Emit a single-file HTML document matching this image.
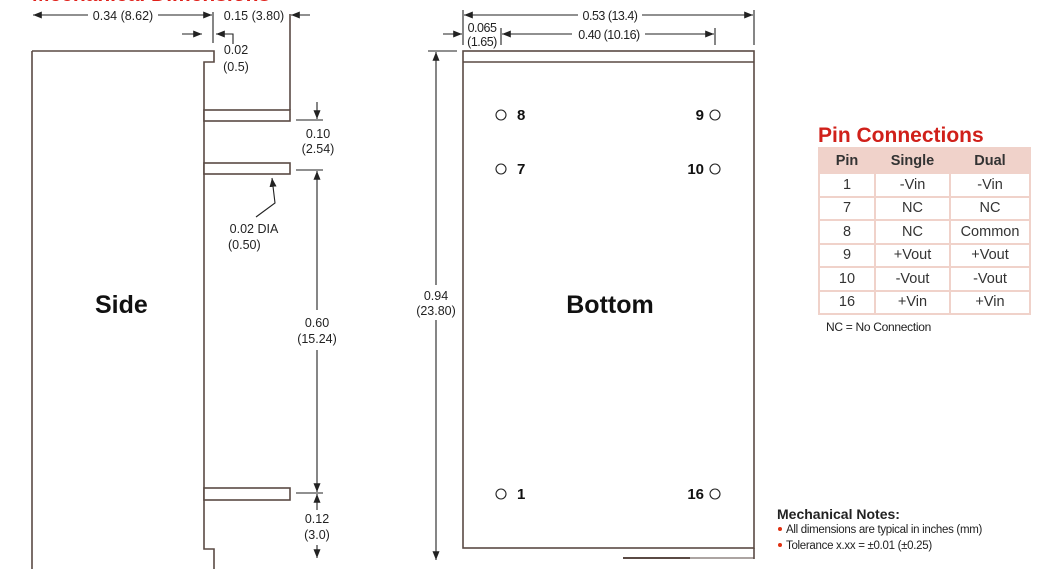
<!DOCTYPE html>
<html><head><meta charset="utf-8"><style>
html,body{margin:0;padding:0;background:#fff;}
body{width:1063px;height:569px;position:relative;overflow:hidden;font-family:"Liberation Sans",sans-serif;}
svg{position:absolute;left:0;top:0;}
table{position:absolute;left:818px;top:147px;border-collapse:collapse;font-size:14.5px;color:#333;}
td,th{border:2px solid #f0d2ca;text-align:center;height:21.5px;padding:0;}
th{background:#f0d2ca;font-weight:bold;height:23px;border-left:2px solid #fff;}
th:first-child{border-left:2px solid #f0d2ca;}
</style></head><body>
<svg width="1063" height="569" viewBox="0 0 1063 569" font-family="Liberation Sans, sans-serif">
<defs>
<marker id="a" viewBox="0 0 10 10" refX="10" refY="5" markerWidth="8" markerHeight="8" orient="auto-start-reverse"><path d="M0,1 L10,5 L0,9 z" fill="#222"/></marker>
</defs>
<text x="32" y="1" font-size="21" font-weight="bold" fill="#e0201a">Mechanical Dimensions</text>
<g stroke="#5a4a44" stroke-width="1.6" fill="none">
<path d="M32,51 H214 V62 H204 V549 H214 V569"/>
<line x1="32" y1="51" x2="32" y2="569"/>
<rect x="204" y="110" width="86" height="11" fill="#fff"/>
<rect x="204" y="163" width="86" height="11" fill="#fff"/>
<rect x="204" y="488" width="86" height="12" fill="#fff"/>
<line x1="290" y1="14" x2="290" y2="110"/>
<rect x="463" y="51" width="291" height="497"/>
<line x1="463" y1="62" x2="754" y2="62"/>
<line x1="754" y1="548" x2="754" y2="559"/>
<line x1="623" y1="558" x2="690" y2="558" stroke-width="2"/>
<line x1="690" y1="558" x2="754" y2="558" stroke-width="1"/>
</g>
<g stroke="#222" stroke-width="1.1" fill="none">
<line x1="213" y1="12" x2="213" y2="43"/>
<line x1="33" y1="15" x2="88" y2="15" marker-start="url(#a)"/>
<line x1="158" y1="15" x2="212" y2="15" marker-end="url(#a)"/>
<line x1="310" y1="15" x2="291" y2="15" marker-end="url(#a)"/>
<line x1="182" y1="34" x2="202" y2="34" marker-end="url(#a)"/>
<path d="M233,44 V34 H216" marker-end="url(#a)"/>
<line x1="317" y1="102" x2="317" y2="119" marker-end="url(#a)"/>
<line x1="296" y1="120" x2="323" y2="120"/>
<line x1="296" y1="170" x2="323" y2="170"/>
<line x1="317" y1="310" x2="317" y2="171" marker-end="url(#a)"/>
<line x1="317" y1="350" x2="317" y2="492" marker-end="url(#a)"/>
<line x1="296" y1="493" x2="323" y2="493"/>
<line x1="317" y1="510" x2="317" y2="494" marker-end="url(#a)"/>
<line x1="317" y1="545" x2="317" y2="558" marker-end="url(#a)"/>
<path d="M256,217 L275,203 L272,178" marker-end="url(#a)"/>
<line x1="428" y1="51" x2="457" y2="51"/>
<line x1="436" y1="285" x2="436" y2="52" marker-end="url(#a)"/>
<line x1="436" y1="320" x2="436" y2="560" marker-end="url(#a)"/>
<line x1="463" y1="10" x2="463" y2="45"/>
<line x1="754" y1="10" x2="754" y2="45"/>
<line x1="464" y1="15" x2="578" y2="15" marker-start="url(#a)"/>
<line x1="642" y1="15" x2="753" y2="15" marker-end="url(#a)"/>
<line x1="501" y1="28" x2="501" y2="45"/>
<line x1="715" y1="28" x2="715" y2="45"/>
<line x1="443" y1="34" x2="462" y2="34" marker-end="url(#a)"/>
<line x1="502" y1="34" x2="572" y2="34" marker-start="url(#a)"/>
<line x1="645" y1="34" x2="714" y2="34" marker-end="url(#a)"/>
<circle cx="501" cy="115" r="5"/><circle cx="501" cy="169" r="5"/><circle cx="501" cy="494" r="5"/>
<circle cx="715" cy="115" r="5"/><circle cx="715" cy="169" r="5"/><circle cx="715" cy="494" r="5"/>
</g>
<g font-size="12.5" fill="#222" text-anchor="middle">
<text x="123" y="20">0.34 (8.62)</text>
<text x="254" y="20">0.15 (3.80)</text>
<text x="236" y="54">0.02</text><text x="236" y="71">(0.5)</text>
<text x="318" y="138">0.10</text><text x="318" y="153">(2.54)</text>
<text x="254" y="233">0.02 DIA</text>
<text x="317" y="327">0.60</text><text x="317" y="343">(15.24)</text>
<text x="317" y="523">0.12</text><text x="317" y="539">(3.0)</text>
<text x="436" y="300">0.94</text><text x="436" y="315">(23.80)</text>
<text x="610" y="20" letter-spacing="-0.5">0.53 (13.4)</text>
<text x="609" y="39" letter-spacing="-0.5">0.40 (10.16)</text>
<text x="482" y="32" letter-spacing="-0.5">0.065</text><text x="482" y="46" letter-spacing="-0.5">(1.65)</text>
</g>
<text x="228" y="249" font-size="12.5" fill="#222">(0.50)</text>
<text x="95" y="313" font-size="25" font-weight="bold" fill="#111">Side</text>
<text x="610" y="313" font-size="25" font-weight="bold" fill="#111" text-anchor="middle">Bottom</text>
<g font-size="15" font-weight="bold" fill="#111">
<text x="517" y="120">8</text><text x="517" y="174">7</text><text x="517" y="499">1</text>
<text x="704" y="120" text-anchor="end">9</text><text x="704" y="174" text-anchor="end">10</text><text x="704" y="499" text-anchor="end">16</text>
</g>
<text x="818" y="142" font-size="21" font-weight="bold" fill="#d0201a">Pin Connections</text>
<text x="826" y="331" font-size="12" fill="#222" letter-spacing="-0.3">NC = No Connection</text>
<text x="777" y="519" font-size="14" font-weight="bold" fill="#222">Mechanical Notes:</text>
<circle cx="780" cy="529" r="2" fill="#e03010"/>
<text x="786" y="533" font-size="11.5" fill="#222" letter-spacing="-0.3">All dimensions are typical in inches (mm)</text>
<circle cx="780" cy="545" r="2" fill="#e03010"/>
<text x="786" y="549" font-size="11.5" fill="#222" letter-spacing="-0.3">Tolerance x.xx = ±0.01 (±0.25)</text>
</svg>
<table>
<tr><th style="width:54px">Pin</th><th style="width:73px">Single</th><th style="width:78px">Dual</th></tr>
<tr><td>1</td><td>-Vin</td><td>-Vin</td></tr>
<tr><td>7</td><td>NC</td><td>NC</td></tr>
<tr><td>8</td><td>NC</td><td>Common</td></tr>
<tr><td>9</td><td>+Vout</td><td>+Vout</td></tr>
<tr><td>10</td><td>-Vout</td><td>-Vout</td></tr>
<tr><td>16</td><td>+Vin</td><td>+Vin</td></tr>
</table>
</body></html>
